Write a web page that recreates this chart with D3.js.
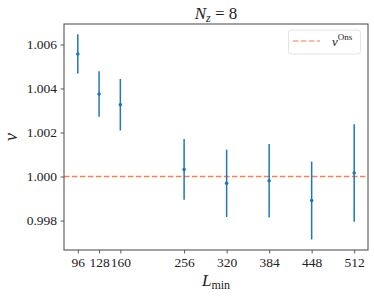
<!DOCTYPE html>
<html>
<head>
<meta charset="utf-8">
<script src="https://cdn.jsdelivr.net/npm/d3@7"></script>
<style>
body{margin:0;background:#fff;}
text{font-family:"Liberation Serif","DejaVu Serif",serif;fill:#222;}
</style>
</head>
<body>
<div id="chart"></div>
<script>
"use strict";

var L_min = [96, 128, 160, 256, 320, 384, 448, 512];
var nu = [1.00557, 1.00375, 1.00326, 1.00032, 0.99969, 0.99981, 0.99891, 1.00016];
var nu_err = [0.00089, 0.00103, 0.00117, 0.00138, 0.00153, 0.00167, 0.00177, 0.00222];
var y_ticks = [0.998, 1.000, 1.002, 1.004, 1.006];
var nu_ons = 1.0;

var w = 374, h = 296;
var ax_l = 64, ax_r = 368, ax_t = 24, ax_b = 250;

var svg = d3.select("#chart").append("svg")
    .attr("width", w)
    .attr("height", h);

var x = d3.scaleLinear().domain([75.2, 532.8]).range([ax_l, ax_r]);
var y = d3.scaleLinear().domain([0.99666, 1.00693]).range([ax_b, ax_t]);

// dashed reference line
svg.append("line")
    .attr("x1", ax_l).attr("x2", ax_r)
    .attr("y1", y(nu_ons)).attr("y2", y(nu_ons))
    .attr("stroke", "#ff7f50")
    .attr("stroke-width", 1.5)
    .attr("stroke-dasharray", "5.5,2.5");

// error bars
var pts = svg.append("g");
L_min.forEach(function(L, i){
    pts.append("line")
        .attr("x1", x(L)).attr("x2", x(L))
        .attr("y1", y(nu[i] - nu_err[i]))
        .attr("y2", y(nu[i] + nu_err[i]))
        .attr("stroke", "#1f77b4")
        .attr("stroke-width", 1.5);
    pts.append("circle")
        .attr("cx", x(L)).attr("cy", y(nu[i]))
        .attr("r", 1.8)
        .attr("fill", "#1f77b4");
});

// axes
var xAxis = d3.axisBottom(x).tickValues(L_min).tickSize(3.5).tickPadding(3.5);
var yAxis = d3.axisLeft(y).tickValues(y_ticks).tickSize(3.5).tickPadding(3.5)
    .tickFormat(d3.format(".3f"));

var gx = svg.append("g").attr("transform", "translate(0," + ax_b + ")").call(xAxis);
var gy = svg.append("g").attr("transform", "translate(" + ax_l + ",0)").call(yAxis);

[gx, gy].forEach(function(g){
    g.select(".domain").remove();
    g.selectAll(".tick line").attr("stroke", "#333").attr("stroke-width", 0.8);
    g.selectAll(".tick text")
        .attr("font-family", "Liberation Serif, DejaVu Serif, serif")
        .attr("font-size", 13.5)
        .attr("fill", "#222");
});

// frame
svg.append("rect")
    .attr("x", ax_l).attr("y", ax_t)
    .attr("width", ax_r - ax_l).attr("height", ax_b - ax_t)
    .attr("fill", "none")
    .attr("stroke", "#444")
    .attr("stroke-width", 1);

// title
var title = svg.append("text")
    .attr("x", (ax_l + ax_r) / 2)
    .attr("y", 19)
    .attr("text-anchor", "middle")
    .attr("font-size", 17);
title.append("tspan").attr("font-style", "italic").text("N");
title.append("tspan").attr("font-style", "italic").attr("font-size", 12).attr("dy", 3).text("z");
title.append("tspan").attr("dy", -3).text(" = 8");

// x label
var xl = svg.append("text")
    .attr("x", (ax_l + ax_r) / 2)
    .attr("y", 286)
    .attr("text-anchor", "middle")
    .attr("font-size", 17);
xl.append("tspan").attr("font-style", "italic").text("L");
xl.append("tspan").attr("font-size", 12).attr("dy", 3).text("min");

// y label
svg.append("text")
    .attr("transform", "translate(17," + ((ax_t + ax_b) / 2) + ") rotate(-90)")
    .attr("text-anchor", "middle")
    .attr("font-size", 18)
    .attr("font-style", "italic")
    .text("ν");

// legend
var lg = svg.append("g");
lg.append("rect")
    .attr("x", 288.5).attr("y", 30)
    .attr("width", 72).attr("height", 24)
    .attr("rx", 2.5)
    .attr("fill", "#fff")
    .attr("fill-opacity", 0.8)
    .attr("stroke", "#ddd")
    .attr("stroke-width", 0.8);
lg.append("line")
    .attr("x1", 293).attr("x2", 320)
    .attr("y1", 41).attr("y2", 41)
    .attr("stroke", "#ff7f50")
    .attr("stroke-opacity", 0.7)
    .attr("stroke-width", 1.5)
    .attr("stroke-dasharray", "5.5,2.5");
var lt = lg.append("text")
    .attr("x", 332).attr("y", 46)
    .attr("font-size", 13);
lt.append("tspan").attr("font-style", "italic").text("ν");
lt.append("tspan").attr("font-size", 9).attr("dy", -6).text("Ons");
</script>
</body>
</html>
